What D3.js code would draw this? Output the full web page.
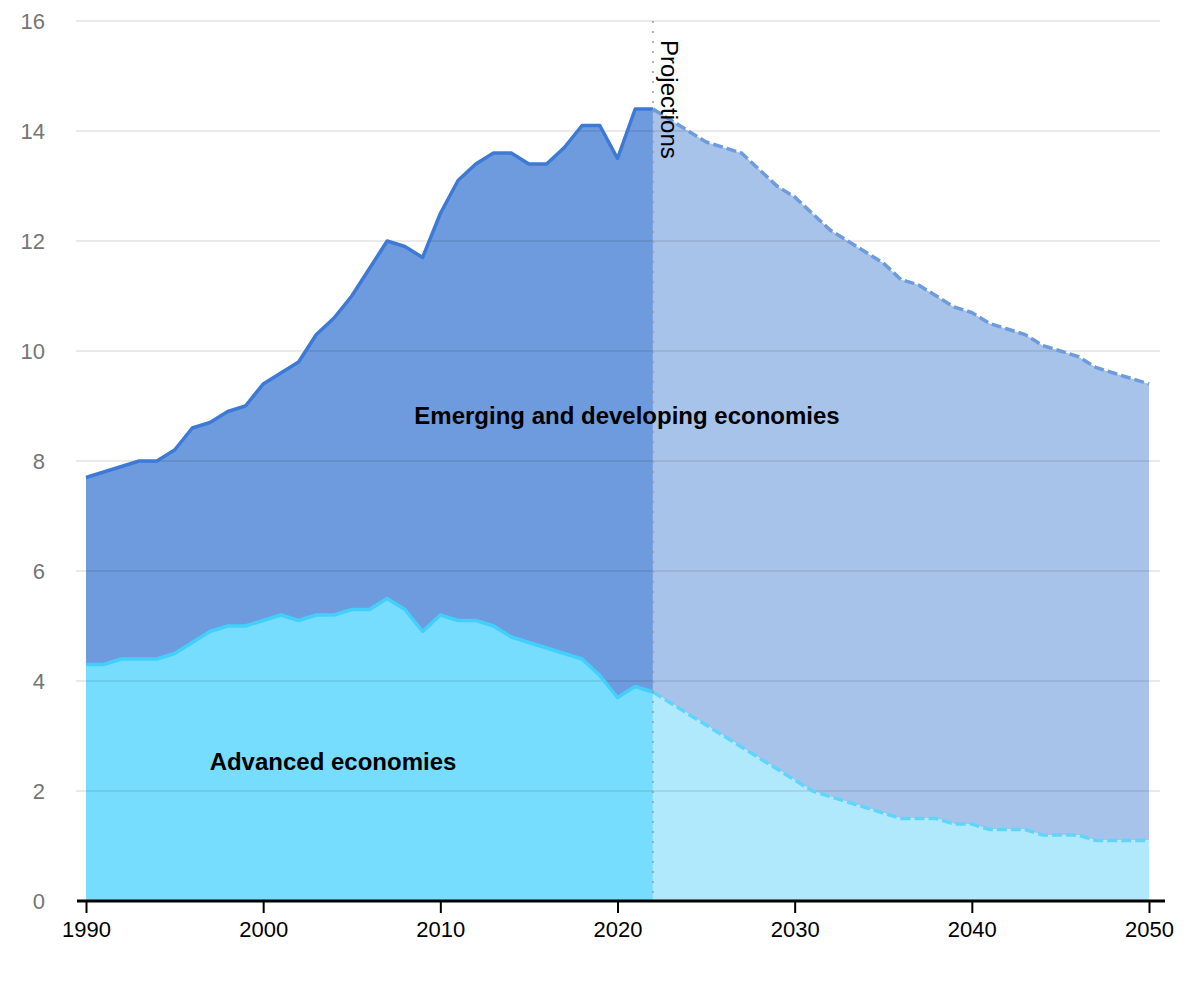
<!DOCTYPE html>
<html>
<head>
<meta charset="utf-8">
<script src="https://cdn.jsdelivr.net/npm/d3@7"></script>
<style>
  body { margin: 0; background: #fff; }
  svg { font-family: "Liberation Sans", Arial, sans-serif; }
</style>
</head>
<body>
<div id="chart-area"></div>
<script>
// ---- data ----
var years = d3.range(1990, 2051);
var projStart = 2022;
// total (advanced + emerging)
var totalValues = [7.7, 7.8, 7.9, 8.0, 8.0, 8.2, 8.6, 8.7, 8.9, 9.0,
  9.4, 9.6, 9.8, 10.3, 10.6, 11.0, 11.5, 12.0, 11.9, 11.7,
  12.5, 13.1, 13.4, 13.6, 13.6, 13.4, 13.4, 13.7, 14.1, 14.1,
  13.5, 14.4, 14.4, 14.2, 14.0, 13.8, 13.7, 13.6, 13.3, 13.0,
  12.8, 12.5, 12.2, 12.0, 11.8, 11.6, 11.3, 11.2, 11.0, 10.8,
  10.7, 10.5, 10.4, 10.3, 10.1, 10.0, 9.9, 9.7, 9.6, 9.5, 9.4];
var advancedValues = [4.3, 4.3, 4.4, 4.4, 4.4, 4.5, 4.7, 4.9, 5.0, 5.0,
  5.1, 5.2, 5.1, 5.2, 5.2, 5.3, 5.3, 5.5, 5.3, 4.9,
  5.2, 5.1, 5.1, 5.0, 4.8, 4.7, 4.6, 4.5, 4.4, 4.1,
  3.7, 3.9, 3.8, 3.6, 3.4, 3.2, 3.0, 2.8, 2.6, 2.4,
  2.2, 2.0, 1.9, 1.8, 1.7, 1.6, 1.5, 1.5, 1.5, 1.4,
  1.4, 1.3, 1.3, 1.3, 1.2, 1.2, 1.2, 1.1, 1.1, 1.1, 1.1];
var yTicks = [0, 2, 4, 6, 8, 10, 12, 14, 16];
var xTicks = [1990, 2000, 2010, 2020, 2030, 2040, 2050];

// ---- layout ----
var W = 1200, H = 1000;
var svg = d3.select("#chart-area").append("svg")
  .attr("width", W).attr("height", H);

var x = d3.scaleLinear().domain([1990, 2050]).range([86, 1149]);
var y = d3.scaleLinear().domain([0, 16]).range([901, 21]);

var data = years.map(function(yr, i) {
  return { year: yr, adv: advancedValues[i], tot: totalValues[i] };
});
var hist = data.filter(function(d) { return d.year <= projStart; });
var proj = data.filter(function(d) { return d.year >= projStart; });

// ---- areas ----
var emArea = d3.area().x(function(d) { return x(d.year); })
  .y0(function(d) { return y(d.adv); }).y1(function(d) { return y(d.tot); });
var advArea = d3.area().x(function(d) { return x(d.year); })
  .y0(y(0)).y1(function(d) { return y(d.adv); });
var totLine = d3.line().x(function(d) { return x(d.year); }).y(function(d) { return y(d.tot); });
var advLine = d3.line().x(function(d) { return x(d.year); }).y(function(d) { return y(d.adv); });

svg.append("path").datum(hist).attr("d", emArea).attr("fill", "#6e9bdd");
svg.append("path").datum(hist).attr("d", advArea).attr("fill", "#77ddfe");
svg.append("path").datum(proj).attr("d", emArea).attr("fill", "#a8c3ea");
svg.append("path").datum(proj).attr("d", advArea).attr("fill", "#b0e9fc");

// gridlines (drawn on top, translucent)
svg.append("g").selectAll("line").data(yTicks.filter(function(t) { return t > 0; }))
  .enter().append("line")
  .attr("x1", 76).attr("x2", 1160)
  .attr("y1", function(d) { return y(d); }).attr("y2", function(d) { return y(d); })
  .attr("stroke", "#000").attr("stroke-opacity", 0.11).attr("stroke-width", 1.5);

// lines
svg.append("path").datum(hist).attr("d", totLine).attr("fill", "none")
  .attr("stroke", "#3d7ad6").attr("stroke-width", 3.5).attr("stroke-linejoin", "round");
svg.append("path").datum(hist).attr("d", advLine).attr("fill", "none")
  .attr("stroke", "#43cffd").attr("stroke-width", 3.5).attr("stroke-linejoin", "round");
svg.append("path").datum(proj).attr("d", totLine).attr("fill", "none")
  .attr("stroke", "#6e9bdd").attr("stroke-width", 3.5).attr("stroke-dasharray", "10,4");
svg.append("path").datum(proj).attr("d", advLine).attr("fill", "none")
  .attr("stroke", "#5fd5fb").attr("stroke-width", 3.5).attr("stroke-dasharray", "10,4");

// projection marker
svg.append("line")
  .attr("x1", x(projStart)).attr("x2", x(projStart))
  .attr("y1", y(16)).attr("y2", y(0))
  .attr("stroke", "#999").attr("stroke-width", 1.5).attr("stroke-dasharray", "2,8");
svg.append("text")
  .attr("transform", "translate(" + (x(projStart) + 8) + ",40) rotate(90)")
  .attr("font-size", "24px").attr("fill", "#000")
  .text("Projections");

// ---- axes ----
var yAxis = svg.append("g");
yAxis.selectAll("text").data(yTicks).enter().append("text")
  .attr("x", 45).attr("y", function(d) { return y(d); })
  .attr("dy", "0.35em").attr("text-anchor", "end")
  .attr("font-size", "22px").attr("fill", "#757575")
  .text(function(d) { return d; });

var xAxis = svg.append("g").attr("transform", "translate(0," + y(0) + ")")
  .call(d3.axisBottom(x).tickValues(xTicks).tickFormat(d3.format("d")).tickSize(12).tickPadding(8));
xAxis.select(".domain").attr("d", "M77,0H1165").attr("stroke", "#000").attr("stroke-width", 3);
xAxis.selectAll(".tick line").attr("stroke", "#000").attr("stroke-width", 2);
xAxis.selectAll(".tick text").attr("font-size", "22px").attr("fill", "#000")
  .attr("font-family", "Liberation Sans, Arial, sans-serif");

// ---- labels ----
svg.append("text").attr("x", 627).attr("y", 424).attr("text-anchor", "middle")
  .attr("font-size", "24px").attr("font-weight", "bold").attr("fill", "#000")
  .text("Emerging and developing economies");
svg.append("text").attr("x", 333).attr("y", 770).attr("text-anchor", "middle")
  .attr("font-size", "24px").attr("font-weight", "bold").attr("fill", "#000")
  .text("Advanced economies");
</script>
</body>
</html>
